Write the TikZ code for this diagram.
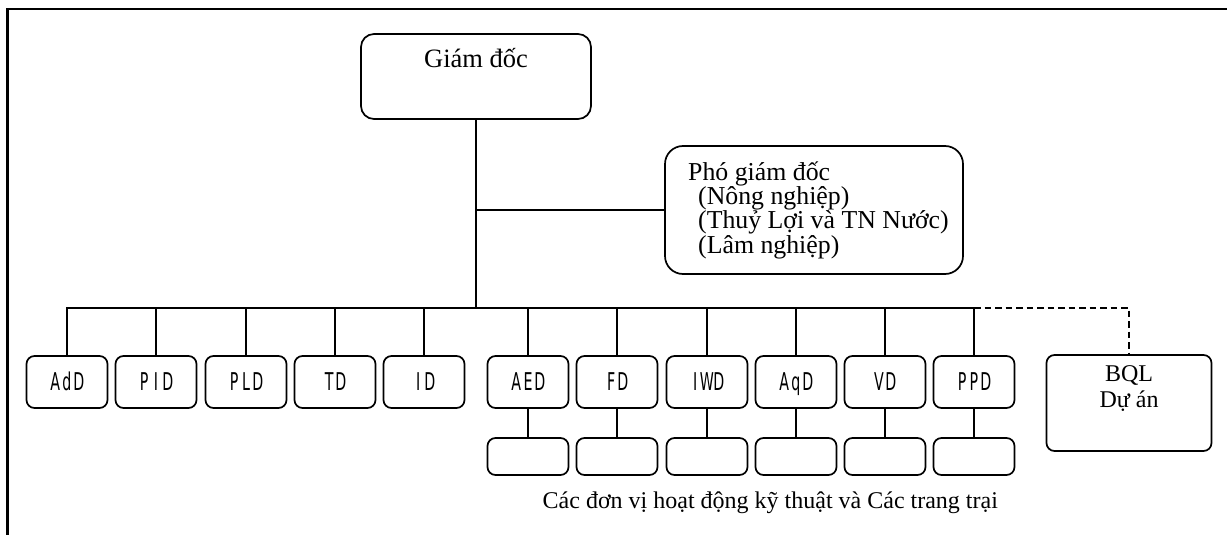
\documentclass[tikz,border=0pt]{standalone}
\usepackage{fontspec}
\setmainfont{Liberation Serif}
% narrow gothic face for the department codes
\newfontfamily\gothic[FakeStretch=0.58]{DejaVu Sans}
% set each letter of a code in a fixed-width cell (half-width look)
\newcommand\cw[1]{\cwi#1\relax}
\def\cwi#1{\ifx#1\relax\else\makebox[11.8pt]{#1}\expandafter\cwi\fi}

\begin{document}
\begin{tikzpicture}[x=1pt,y=-1pt,
  box/.style={draw, line width=1.7pt, inner sep=0pt},
  dept/.style={box, rounded corners=8pt, minimum width=81pt, minimum height=52pt,
    text height=17.8pt, text depth=0pt, font=\gothic\fontsize{24.5}{26}\selectfont},
  unitbox/.style={box, rounded corners=8pt, minimum width=81pt, minimum height=37pt},
  conn/.style={line width=2pt},
  txt/.style={inner sep=0pt, anchor=base},
]
\useasboundingbox (0,0) rectangle (1227,535);

% page frame (top and left edges)
\coordinate (fA) at (7.6,535);
\coordinate (fB) at (7.6,8.8);
\coordinate (fC) at (1227,8.8);
\draw[line width=2.4pt] (fA) -- (fB) -- (fC);

% director
\node[box, rounded corners=13pt, minimum width=230pt, minimum height=85pt] (gd) at (476,76.5) {};
\node[txt, font=\fontsize{26.5}{28}\selectfont] (gdt) at (476,67.7) {Giám đốc};

% deputy directors
\node[box, rounded corners=18pt, minimum width=298pt, minimum height=128pt] (pgd) at (814,210) {};
\begin{scope}[every node/.style={txt, anchor=base west, font=\fontsize{25.8}{27}\selectfont}]
\node (pg1) at (688,180)   {Phó giám đốc};
\node (pg2) at (698,204.4) {(Nông nghiệp)};
\node (pg3) at (698,228.8) {(Thuỷ Lợi và TN Nước)};
\node (pg4) at (698,253.2) {(Lâm nghiệp)};
\end{scope}

% departments
\node[dept] (AdD) at (67,382)  {\cw{AdD}};
\node[dept] (PID) at (156,382) {\cw{PID}};
\node[dept] (PLD) at (246,382) {\cw{PLD}};
\node[dept] (TD)  at (335,382) {\cw{TD}};
\node[dept] (ID)  at (424,382) {\cw{ID}};
\node[dept] (AED) at (528,382) {\cw{AED}};
\node[dept] (FD)  at (617,382) {\cw{FD}};
\node[dept] (IWD) at (707,382) {\cw{IWD}};
\node[dept] (AqD) at (796,382) {\cw{AqD}};
\node[dept] (VD)  at (885,382) {\cw{VD}};
\node[dept] (PPD) at (974,382) {\cw{PPD}};

% technical units and farms
\foreach \d in {AED,FD,IWD,AqD,VD,PPD}{
  \node[unitbox] (\d u) at (\d.south |- 0,456.5) {};
  \draw[conn] (\d.south) -- (\d u.north);
}
\node[txt, font=\fontsize{24}{28}\selectfont] (cap) at (770.3,508.3)
  {Các đơn vị hoạt động kỹ thuật và Các trang trại};

% project management board
\node[box, rounded corners=8pt, minimum width=165pt, minimum height=96pt] (bql) at (1129,403) {};
\node[txt, font=\fontsize{24}{28}\selectfont] (bql1) at (bql.north |- 0,381)   {BQL};
\node[txt, font=\fontsize{24}{28}\selectfont] (bql2) at (bql.north |- 0,407.7) {Dự án};

% connectors
\coordinate (bus) at (0,308);
\draw[conn] (gd.south) -- (gd.south |- bus);
\draw[conn] (pgd.west) -- (pgd.west -| gd.south);
\draw[conn] (AdD.north) |- (PPD.north |- bus) -- (PPD.north);
\foreach \d in {PID,PLD,TD,ID,AED,FD,IWD,AqD,VD}{
  \draw[conn] (\d.north) -- (\d.north |- bus);
}
\draw[conn, dash pattern=on 6.5pt off 4pt] (PPD.north |- bus) -| (bql.north);
\end{tikzpicture}
\end{document}
